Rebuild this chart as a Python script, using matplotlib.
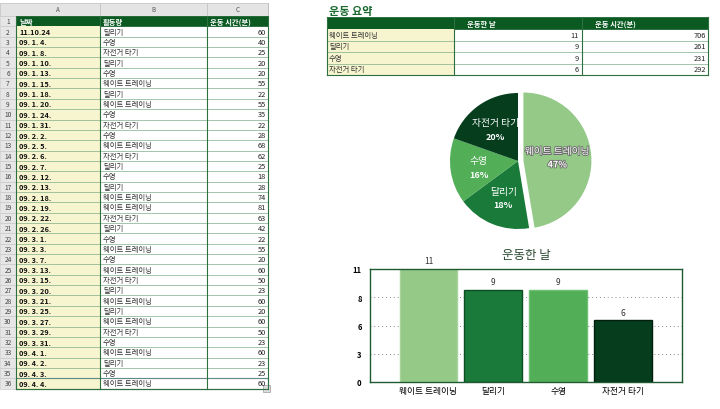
import matplotlib.pyplot as plt
import matplotlib.patheffects as pe
import numpy as np
from matplotlib.patches import Rectangle

plt.rcParams['font.family'] = ['Noto Sans CJK KR', 'DejaVu Sans']

# 왼쪽 시트 데이터
dates = ['11.10.24', '09. 1. 4.', '09. 1. 8.', '09. 1. 10.', '09. 1. 13.', '09. 1. 15.',
         '09. 1. 18.', '09. 1. 20.', '09. 1. 24.', '09. 1. 31.', '09. 2. 2.', '09. 2. 5.',
         '09. 2. 6.', '09. 2. 7.', '09. 2. 12.', '09. 2. 13.', '09. 2. 18.', '09. 2. 19.',
         '09. 2. 22.', '09. 2. 26.', '09. 3. 1.', '09. 3. 3.', '09. 3. 7.', '09. 3. 13.',
         '09. 3. 15.', '09. 3. 20.', '09. 3. 21.', '09. 3. 25.', '09. 3. 27.', '09. 3. 29.',
         '09. 3. 31.', '09. 4. 1.', '09. 4. 2.', '09. 4. 3.', '09. 4. 4.']
W, R, S, C = '웨이트 트레이닝', '달리기', '수영', '자전거 타기'
activities = [R, S, C, R, S, W, R, W, S, C, S, W, C, R, S, R, W, W, C, R,
              S, W, S, W, C, R, W, R, W, C, S, W, R, S, W]
minutes = [60, 40, 25, 20, 20, 55, 22, 55, 35, 22, 28, 68, 62, 25, 18, 28, 74, 81,
           63, 42, 22, 55, 20, 60, 50, 23, 60, 20, 60, 50, 23, 60, 23, 25, 60]
headers = ['날짜', '활동량', '운동 시간(분)']
col_letters = ['A', 'B', 'C']

# 요약
summary_title = '운동 요약'
summary_headers = ['운동한 날', '운동 시간(분)']
kinds = [W, R, S, C]
days = [11, 9, 9, 6]
total_min = [706, 261, 231, 292]
pie_pct = [47, 18, 16, 20]
bar_title = '운동한 날'
ytick_vals = np.linspace(0, 11, 5)
ytick_labels = ['0', '3', '6', '8', '11']

colors = ['#94c987', '#1a7a3a', '#52ae57', '#053d1d']
dark = '#0a5a22'
yellow = '#f6f5cf'

fig = plt.figure(figsize=(7.2, 4.1), dpi=100)
bg = fig.add_axes([0, 0, 1, 1])
bg.set_xlim(0, 720)
bg.set_ylim(410, 0)
bg.axis('off')

# ---- 왼쪽 시트 ----
cx = [16, 100, 207, 268]
top = 17
rh = 10.35
fs = 5.3
bg.add_patch(Rectangle((0, 4), 268, top - 4, fc='#e4e4e4', ec='#bdbdbd', lw=0.5))
for i, L in enumerate(col_letters):
    bg.text((cx[i] + cx[i + 1]) / 2, 10.5, L, fontsize=4.5, color='#555555', ha='center', va='center')
    bg.plot([cx[i + 1], cx[i + 1]], [4, top], color='#bdbdbd', lw=0.5)
nrows = len(dates) + 1
for r in range(nrows):
    y0 = top + r * rh
    bg.add_patch(Rectangle((0, y0), 16, rh, fc='#e6e6e6', ec='#c4c4c4', lw=0.4))
    bg.text(8, y0 + rh / 2, str(r + 1), fontsize=4.8, color='#444444', ha='center', va='center')
# header row
bg.add_patch(Rectangle((16, top), 252, rh, fc=dark, ec=dark, lw=0.5))
for i, h in enumerate(headers):
    bg.text(cx[i] + 3, top + rh / 2, h, fontsize=fs, color='white', weight='bold', va='center')
for k in range(len(dates)):
    y0 = top + (k + 1) * rh
    bg.add_patch(Rectangle((16, y0), 84, rh, fc=yellow, ec='none'))
    bg.plot([16, 268], [y0 + rh, y0 + rh], color='#7fae8b', lw=0.5)
    bg.text(19, y0 + rh / 2, dates[k], fontsize=fs, weight='bold', color='#111111', va='center')
    bg.text(103, y0 + rh / 2, activities[k], fontsize=fs, color='#333333', va='center')
    bg.text(266, y0 + rh / 2, str(minutes[k]), fontsize=fs, color='#222222', va='center', ha='right')
bottom = top + nrows * rh
for x in cx:
    bg.plot([x, x], [top, bottom], color='#2d6f3f', lw=0.8)
bg.plot([16, 268], [bottom, bottom], color='#2d6f3f', lw=0.8)
bg.add_patch(Rectangle((16, bottom - rh), 252, rh, fc='none', ec='#1f3f6f', lw=0.8))
bg.add_patch(Rectangle((263, bottom - 4), 7, 7, fc='#dddddd', ec='#999999', lw=0.5))

# ---- 요약 표 ----
bg.text(329, 12, summary_title, fontsize=8, weight='bold', color='#1a6a30', va='center')
sx = [327, 454, 582, 708]
st = 18
srh = [12, 11.5, 11.5, 11.5, 11.5]
bg.add_patch(Rectangle((sx[0], st), sx[3] - sx[0], srh[0], fc=dark, ec=dark, lw=0.5))
for i, h in enumerate(summary_headers):
    bg.text(sx[i + 1] + (sx[i + 2] - sx[i + 1]) * 0.1, st + srh[0] / 2, h,
            fontsize=fs, color='white', weight='bold', va='center')
y0 = st + srh[0]
for k in range(len(kinds)):
    h = srh[k + 1]
    bg.add_patch(Rectangle((sx[0], y0), sx[1] - sx[0], h, fc=yellow, ec='none'))
    bg.plot([sx[0], sx[3]], [y0 + h, y0 + h], color='#7fae8b', lw=0.5)
    bg.text(sx[0] + 2, y0 + h / 2, kinds[k], fontsize=fs, color='#333333', va='center')
    bg.text(sx[2] - 3, y0 + h / 2, str(days[k]), fontsize=fs, color='#222222', va='center', ha='right')
    bg.text(sx[3] - 2, y0 + h / 2, str(total_min[k]), fontsize=fs, color='#222222', va='center', ha='right')
    y0 += h
for x in sx:
    bg.plot([x, x], [st, y0], color='#2d6f3f', lw=0.8)
bg.plot([sx[0], sx[3]], [y0, y0], color='#2d6f3f', lw=0.8)

# ---- 파이 ----
rad = 68
pw = 2.3 * rad
pax = fig.add_axes([(518 - pw / 2) / 720, (410 - 162 - pw / 2) / 410, pw / 720, pw / 410])
wedges, _ = pax.pie(total_min, colors=colors, startangle=90, counterclock=False,
                    explode=[0.08, 0, 0, 0], wedgeprops=dict(linewidth=0))
pax.set_xlim(-1.15, 1.15)
pax.set_ylim(-1.15, 1.15)
for k, w in enumerate(wedges):
    ang = np.deg2rad((w.theta1 + w.theta2) / 2)
    cxw, cyw = w.center
    d = 0.58 if k else 0.5
    px, py = cxw + d * np.cos(ang), cyw + d * np.sin(ang)
    t1 = pax.text(px, py + 0.02, kinds[k], ha='center', va='bottom', fontsize=7, color='white')
    t2 = pax.text(px, py - 0.04, f'{pie_pct[k]}%', ha='center', va='top', fontsize=6.5,
                  color='white', weight='bold')
    if k == 0:
        for t in (t1, t2):
            t.set_path_effects([pe.withStroke(linewidth=1.2, foreground='#6a6a6a')])

# ---- 막대 ----
bax = fig.add_axes([370 / 720, (410 - 383) / 410, 312 / 720, 113 / 410])
x = np.arange(len(kinds))
edges = ['#a8d49c', '#0c4f22', '#6cc06f', '#021f0e']
bax.bar(x, days, width=0.89, color=colors, edgecolor=edges, linewidth=1, zorder=2)
for v in ytick_vals[1:-1]:
    bax.axhline(v, color='#888888', lw=0.7, ls=(0, (1, 3)), zorder=1)
for i, v in enumerate(days):
    bax.text(x[i], v + 0.35, str(v), ha='center', va='bottom', fontsize=6, color='#333333')
bax.set_xlim(-0.9, 3.91)
bax.set_ylim(0, 11)
bax.set_yticks(ytick_vals)
bax.set_yticklabels(ytick_labels, fontsize=5.5, weight='bold')
bax.set_xticks(x)
bax.set_xticklabels(kinds, fontsize=6.3)
bax.tick_params(length=0, pad=6)
bax.tick_params(axis='x', pad=3)
for s in bax.spines.values():
    s.set_color('#1f5a30')
    s.set_linewidth(1)
bax.set_title(bar_title, fontsize=9, color='#2a4a30', pad=8)

fig.savefig('out.png', dpi=100)
